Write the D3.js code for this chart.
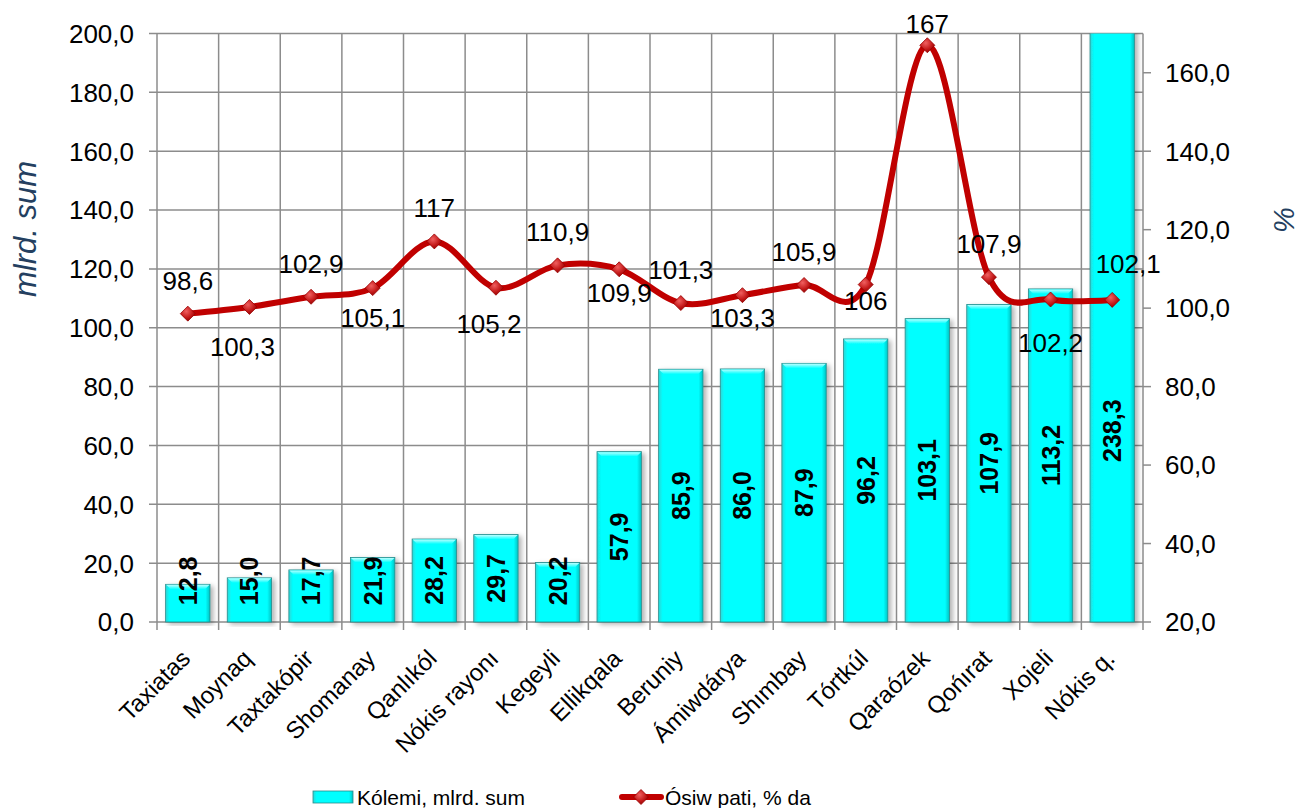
<!DOCTYPE html>
<html>
<head>
<meta charset="utf-8">
<script src="https://cdn.jsdelivr.net/npm/d3@7"></script>
<style>
  body { margin: 0; background: #fff; }
  svg { display: block; font-family: Arial, "Liberation Sans", sans-serif; }
</style>
</head>
<body>
<svg id="chart" width="1300" height="808"></svg>
<script>
// Data
const categories = ['Taxiatas', 'Moynaq', 'Taxtakópir', 'Shomanay', 'Qanlıkól', 'Nókis rayonı', 'Kegeyli',
  'Ellikqala', 'Beruniy', 'Ámiwdárya', 'Shımbay', 'Tórtkúl', 'Qaraózek', 'Qońırat', 'Xojeli', 'Nókis q.'];
const volume = [12.8, 15.0, 17.7, 21.9, 28.2, 29.7, 20.2, 57.9, 85.9, 86.0, 87.9, 96.2, 103.1, 107.9, 113.2, 238.3];
const growth = [98.6, 100.3, 102.9, 105.1, 117, 105.2, 110.9, 109.9, 101.3, 103.3, 105.9, 106, 167, 107.9, 102.2, 102.1];
const leftTicks = [0, 20, 40, 60, 80, 100, 120, 140, 160, 180, 200];
const rightTicks = [20, 40, 60, 80, 100, 120, 140, 160];
const seriesNames = ['Kólemi, mlrd. sum', 'Ósiw pati, % da'];

// label placement for the growth labels (side of the marker, small nudges)
const growthLabelSide = ['above', 'below', 'above', 'below', 'above', 'below', 'above', 'below',
  'above', 'below', 'above', 'below', 'above', 'above', 'below', 'above'];
const growthLabelNudge = [[0, 0], [-7, 14], [0, 0], [0, 4], [0, 0], [-7, 10], [0, 0], [0, -2],
  [0, 0], [0, -3], [0, 0], [0, -10], [0, 12], [0, 0], [0, 17], [16, -3]];

const svg = d3.select('#chart');
const margin = { top: 33.5, left: 157, right: 1143, bottom: 622 };

const x = d3.scaleBand().domain(categories).range([margin.left, margin.right]);
const yL = d3.scaleLinear().domain([0, 200]).range([margin.bottom, margin.top]);
const yR = d3.scaleLinear().domain([20, 170]).range([margin.bottom, margin.top]);

const fmt = v => Number.isInteger(v) ? String(v) : v.toFixed(1).replace('.', ',');
const fmt1 = v => v.toFixed(1).replace('.', ',');

const gridColor = '#8c8c8c';

// defs: bar gradients, shadow, marker gradient
const defs = svg.append('defs');
const barGrad = defs.append('linearGradient').attr('id', 'bar-grad').attr('x1', 0).attr('x2', 1).attr('y1', 0).attr('y2', 0);
[['0%', '#2fd6d6'], ['9%', '#00ffff'], ['90%', '#00ffff'], ['100%', '#00c2c2']].forEach(([o, c]) =>
  barGrad.append('stop').attr('offset', o).attr('stop-color', c));
const topGrad = defs.append('linearGradient').attr('id', 'bar-top').attr('x1', 0).attr('x2', 0).attr('y1', 0).attr('y2', 1);
[['0%', '#b8ffff'], ['100%', '#00ffff']].forEach(([o, c]) =>
  topGrad.append('stop').attr('offset', o).attr('stop-color', c));
const shadow = defs.append('filter').attr('id', 'shadow').attr('x', '-30%').attr('y', '-10%').attr('width', '160%').attr('height', '120%');
shadow.append('feDropShadow').attr('dx', 3).attr('dy', 2).attr('stdDeviation', 2.5)
  .attr('flood-color', '#000').attr('flood-opacity', 0.3);
const mGrad = defs.append('radialGradient').attr('id', 'marker-grad').attr('cx', '40%').attr('cy', '35%').attr('r', '70%');
[['0%', '#f06060'], ['60%', '#c41a1a'], ['100%', '#8a0000']].forEach(([o, c]) =>
  mGrad.append('stop').attr('offset', o).attr('stop-color', c));
defs.append('clipPath').attr('id', 'plot-clip').append('rect')
  .attr('x', margin.left - 10).attr('y', margin.top)
  .attr('width', margin.right - margin.left + 20).attr('height', margin.bottom - margin.top + 10);

// gridlines
const grid = svg.append('g');
grid.selectAll('line.h').data(leftTicks).join('line')
  .attr('x1', margin.left - 8).attr('x2', margin.right)
  .attr('y1', d => yL(d)).attr('y2', d => yL(d))
  .attr('stroke', gridColor).attr('stroke-width', 1.5);
const bounds = categories.map(c => x(c)).concat([margin.right]);
grid.selectAll('line.v').data(bounds).join('line')
  .attr('x1', d => d).attr('x2', d => d)
  .attr('y1', margin.top).attr('y2', margin.bottom + 8)
  .attr('stroke', gridColor).attr('stroke-width', 1.5);
// right ticks
grid.selectAll('line.r').data(rightTicks).join('line')
  .attr('x1', margin.right).attr('x2', margin.right + 8)
  .attr('y1', d => yR(d)).attr('y2', d => yR(d))
  .attr('stroke', gridColor).attr('stroke-width', 1.5);

// bars
const bw = x.bandwidth() * 0.72;
const bars = svg.append('g').attr('clip-path', 'url(#plot-clip)');
const barG = bars.selectAll('g').data(volume).join('g')
  .attr('filter', 'url(#shadow)');
barG.append('rect')
  .attr('x', (d, i) => x(categories[i]) + (x.bandwidth() - bw) / 2)
  .attr('y', d => yL(d))
  .attr('width', bw)
  .attr('height', d => yL(0) - yL(d))
  .attr('fill', 'url(#bar-grad)')
  .attr('stroke', '#2a8a8a').attr('stroke-width', 0.8);
barG.filter(d => d <= 200).append('path')
  .attr('d', (d, i) => {
    const x0 = x(categories[i]) + (x.bandwidth() - bw) / 2, y0 = yL(d), t = 5;
    return `M${x0 + 0.5},${y0 + 0.5}L${x0 + bw - 0.5},${y0 + 0.5}L${x0 + bw - t},${y0 + t}L${x0 + t},${y0 + t}Z`;
  })
  .attr('fill', 'url(#bar-top)');

// bar labels
svg.append('g').selectAll('text').data(volume).join('text')
  .attr('transform', (d, i) => {
    const cx = x(categories[i]) + x.bandwidth() / 2;
    const cy = yL(Math.max(14, Math.min(d / 2, 65)));
    return `translate(${cx},${cy}) rotate(-90)`;
  })
  .attr('text-anchor', 'middle').attr('dy', '0.36em')
  .attr('font-size', 25).attr('font-weight', 'bold').attr('fill', '#000')
  .text(d => fmt1(d));

// growth line
const pts = growth.map((v, i) => [x(categories[i]) + x.bandwidth() / 2, yR(v)]);
svg.append('path')
  .attr('d', d3.line().curve(d3.curveCardinal.tension(0))(pts))
  .attr('fill', 'none').attr('stroke', '#c00000').attr('stroke-width', 6)
  .attr('stroke-linejoin', 'round');

const diamond = (cx, cy, r) => `M${cx},${cy - r}L${cx + r},${cy}L${cx},${cy + r}L${cx - r},${cy}Z`;
svg.append('g').selectAll('path').data(pts).join('path')
  .attr('d', d => diamond(d[0], d[1], 7.5))
  .attr('fill', 'url(#marker-grad)').attr('stroke', '#9a0000').attr('stroke-width', 0.8);

// growth labels
svg.append('g').selectAll('text').data(growth).join('text')
  .attr('x', (d, i) => pts[i][0] + growthLabelNudge[i][0])
  .attr('y', (d, i) => pts[i][1] + (growthLabelSide[i] === 'above' ? -24 : 35) + growthLabelNudge[i][1])
  .attr('text-anchor', 'middle')
  .attr('font-size', 26).attr('fill', '#000')
  .text(d => fmt(d));

// axis tick labels
svg.append('g').selectAll('text').data(leftTicks).join('text')
  .attr('x', 134).attr('y', d => yL(d)).attr('dy', '0.36em')
  .attr('text-anchor', 'end').attr('font-size', 26).text(d => fmt1(d));
svg.append('g').selectAll('text').data(rightTicks).join('text')
  .attr('x', 1165).attr('y', d => yR(d)).attr('dy', '0.36em')
  .attr('text-anchor', 'start').attr('font-size', 26).text(d => fmt1(d));

// category labels
svg.append('g').selectAll('text').data(categories).join('text')
  .attr('transform', d => `translate(${x(d) + x.bandwidth() / 2 - 2},${margin.bottom + 32}) rotate(-45)`)
  .attr('text-anchor', 'end').attr('dy', '0.35em')
  .attr('font-size', 24).text(d => d);

// axis titles
svg.append('text')
  .attr('transform', 'translate(36,229) rotate(-90)')
  .attr('text-anchor', 'middle').attr('font-size', 31).attr('font-style', 'italic')
  .attr('fill', '#243f60').text('mlrd. sum');
svg.append('text')
  .attr('transform', 'translate(1294,220) rotate(-90)')
  .attr('text-anchor', 'middle').attr('font-size', 29).attr('font-style', 'italic')
  .attr('fill', '#243f60').text('%');

// legend
const lg = svg.append('g');
lg.append('rect').attr('x', 313).attr('y', 791).attr('width', 40).attr('height', 12)
  .attr('fill', 'url(#bar-grad)').attr('stroke', '#2a8a8a').attr('stroke-width', 0.8);
lg.append('text').attr('x', 357).attr('y', 805).attr('font-size', 21).text(seriesNames[0]);
lg.append('line').attr('x1', 622).attr('x2', 661).attr('y1', 797).attr('y2', 797)
  .attr('stroke', '#c00000').attr('stroke-width', 6).attr('stroke-linecap', 'round');
lg.append('path').attr('d', diamond(641, 797, 7.5))
  .attr('fill', 'url(#marker-grad)').attr('stroke', '#9a0000').attr('stroke-width', 0.8);
lg.append('text').attr('x', 665).attr('y', 805).attr('font-size', 21).text(seriesNames[1]);
</script>
</body>
</html>
